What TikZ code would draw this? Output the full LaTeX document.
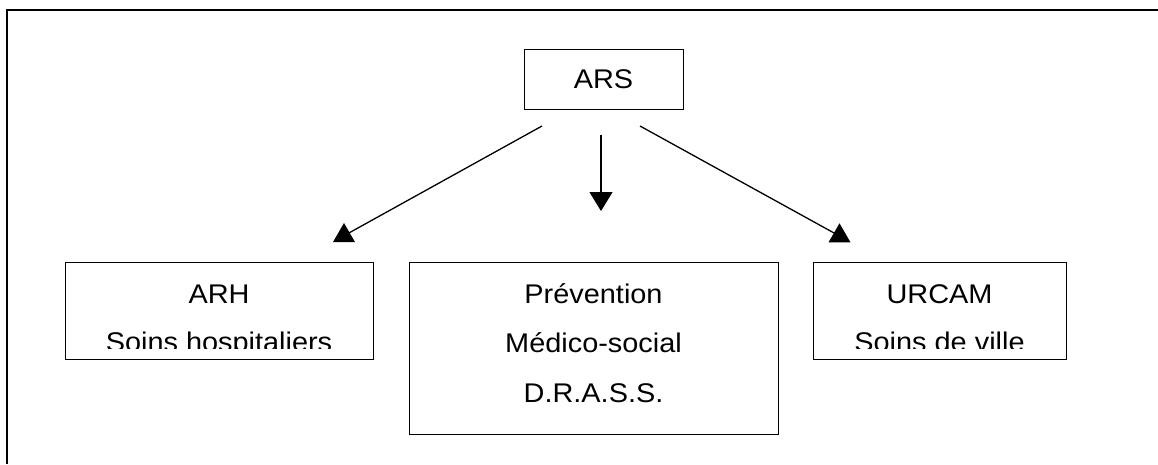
\documentclass[tikz,border=0pt]{standalone}
\usepackage{fontspec}
\setmainfont{Liberation Sans}[FakeStretch=1.07]
\usetikzlibrary{arrows.meta,shapes.geometric}
\begin{document}
\begin{tikzpicture}[x=1pt,y=-1pt,
  box/.style={draw, line width=1.3pt, inner sep=0pt, anchor=north west},
  txt/.style={anchor=base, inner sep=0pt, font=\fontsize{27}{32}\selectfont},
  link/.style={line width=1.3pt},
  tri/.style={regular polygon, regular polygon sides=3, fill=black, draw=none, minimum size=25.4pt, inner sep=0pt},
  frame/.style={line width=2pt}]
\useasboundingbox (0,0) rectangle (1158,464);
% outer frame (top and left edges visible)
\coordinate (fa) at (1158,10);
\coordinate (fb) at (7,10);
\coordinate (fc) at (7,464);
\draw[frame] (fa) -- (fb) -- (fc);
% boxes
\node[box, minimum width=159pt, minimum height=60pt] (ars) at (524,49) {};
\node[box, minimum width=308pt, minimum height=97pt] (arh) at (65,262) {};
\node[box, minimum width=369pt, minimum height=172pt] (prev) at (409,262) {};
\node[box, minimum width=253pt, minimum height=97pt] (urcam) at (813,262) {};
% texts
\node[txt] (tars) at (603.5,88) {ARS};
\node[txt] (tarh) at (219,303) {ARH};
\begin{scope}
  \clip (66,263) rectangle (372,348);
  \node[txt] (tarh2) at (219,351) {Soins hospitaliers};
\end{scope}
\node[txt] (tp1) at (593.5,303) {Prévention};
\node[txt] (tp2) at (593.5,352.5) {Médico-social};
\node[txt] (tp3) at (593.5,402) {D.R.A.S.S.};
\node[txt] (turc) at (939.5,303) {URCAM};
\begin{scope}
  \clip (814,263) rectangle (1065,348);
  \node[txt] (turc2) at (939.5,351) {Soins de ville};
\end{scope}
% arrows
\coordinate (sl) at (542,126);
\coordinate (sm) at (601,135);
\coordinate (em) at (601,211);
\coordinate (sr) at (640,126);
\node[tri] (tl) at (344,235.7) {};
\node[tri] (tr) at (839.5,236) {};
\draw[link] (sl) -- (tl.center);
\draw[link] (sr) -- (tr.center);
\draw[link, -{Triangle[width=23pt,length=19pt]}] (sm) -- (em);
\end{tikzpicture}
\end{document}
